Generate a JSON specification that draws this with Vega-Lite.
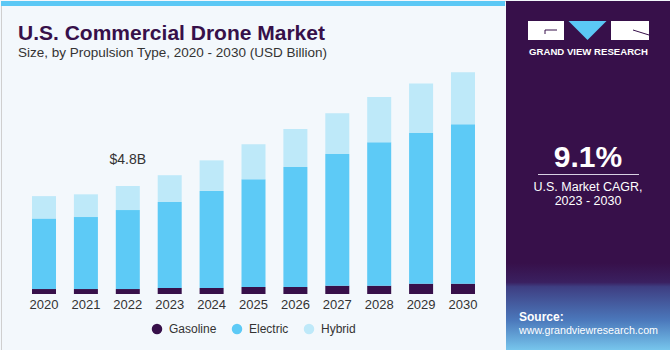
{
  "$schema": "https://vega.github.io/schema/vega-lite/v6.json",
  "background": "#F3F8FC",
  "padding": 0,
  "spacing": 0,
  "bounds": "flush",
  "config": {"view": {"stroke": null}, "font": "Liberation Sans"},
  "hconcat": [
    {
      "width": 505,
      "height": 350,
      "view": {"stroke": "#cfcfcf", "strokeWidth": 1},
      "title": {
        "text": "U.S. Commercial Drone Market",
        "subtitle": "Size, by Propulsion Type, 2020 - 2030 (USD Billion)",
        "anchor": "start",
        "frame": "group",
        "offset": -58,
        "dx": 17,
        "font": "Liberation Sans",
        "fontSize": 21,
        "fontWeight": "bold",
        "color": "#37104A",
        "subtitleFont": "Liberation Sans",
        "subtitleFontSize": 13.5,
        "subtitleColor": "#333333",
        "subtitlePadding": 2
      },
      "layer": [
        {
          "data": {"values": [{}]},
          "mark": {"type": "rect", "color": "#5BC8F5"},
          "encoding": {
            "x": {"value": 0}, "x2": {"value": 504},
            "y": {"value": 0}, "y2": {"value": 5}
          }
        },
        {
          "data": {
            "values": [
              {"year": "2020", "type": "Gasoline", "value": 0.22},
              {"year": "2020", "type": "Electric", "value": 3.14},
              {"year": "2020", "type": "Hybrid", "value": 0.99},
              {"year": "2021", "type": "Gasoline", "value": 0.22},
              {"year": "2021", "type": "Electric", "value": 3.20},
              {"year": "2021", "type": "Hybrid", "value": 1.01},
              {"year": "2022", "type": "Gasoline", "value": 0.22},
              {"year": "2022", "type": "Electric", "value": 3.51},
              {"year": "2022", "type": "Hybrid", "value": 1.07},
              {"year": "2023", "type": "Gasoline", "value": 0.27},
              {"year": "2023", "type": "Electric", "value": 3.82},
              {"year": "2023", "type": "Hybrid", "value": 1.19},
              {"year": "2024", "type": "Gasoline", "value": 0.27},
              {"year": "2024", "type": "Electric", "value": 4.31},
              {"year": "2024", "type": "Hybrid", "value": 1.36},
              {"year": "2025", "type": "Gasoline", "value": 0.31},
              {"year": "2025", "type": "Electric", "value": 4.79},
              {"year": "2025", "type": "Hybrid", "value": 1.56},
              {"year": "2026", "type": "Gasoline", "value": 0.31},
              {"year": "2026", "type": "Electric", "value": 5.33},
              {"year": "2026", "type": "Hybrid", "value": 1.69},
              {"year": "2027", "type": "Gasoline", "value": 0.37},
              {"year": "2027", "type": "Electric", "value": 5.85},
              {"year": "2027", "type": "Hybrid", "value": 1.81},
              {"year": "2028", "type": "Gasoline", "value": 0.37},
              {"year": "2028", "type": "Electric", "value": 6.37},
              {"year": "2028", "type": "Hybrid", "value": 2.01},
              {"year": "2029", "type": "Gasoline", "value": 0.46},
              {"year": "2029", "type": "Electric", "value": 6.70},
              {"year": "2029", "type": "Hybrid", "value": 2.19},
              {"year": "2030", "type": "Gasoline", "value": 0.46},
              {"year": "2030", "type": "Electric", "value": 7.08},
              {"year": "2030", "type": "Hybrid", "value": 2.32}
            ]
          },
          "transform": [
            {"calculate": "indexof(['Gasoline','Electric','Hybrid'], datum.type)", "as": "stackOrder"}
          ],
          "mark": {"type": "bar"},
          "encoding": {
            "x": {
              "field": "year",
              "type": "ordinal",
              "scale": {"paddingInner": 0.427, "paddingOuter": 0.74},
              "axis": {
                "title": null,
                "labelAngle": 0,
                "domain": false,
                "ticks": false,
                "offset": -57,
                "labelPadding": 4,
                "labelFontSize": 13,
                "labelColor": "#333333",
                "labelFont": "Liberation Sans"
              }
            },
            "y": {
              "field": "value",
              "type": "quantitative",
              "stack": "zero",
              "scale": {"domain": [-2.5333, 13.0222], "nice": false, "zero": false},
              "axis": null
            },
            "color": {
              "field": "type",
              "type": "nominal",
              "scale": {
                "domain": ["Gasoline", "Electric", "Hybrid"],
                "range": ["#37104A", "#5DCAF6", "#BEE9F9"]
              },
              "legend": {
                "orient": "none",
                "legendX": 150,
                "legendY": 322,
                "direction": "horizontal",
                "title": null,
                "symbolType": "circle",
                "symbolSize": 110,
                "symbolStrokeWidth": 0,
                "labelFontSize": 12,
                "labelFont": "Liberation Sans",
                "labelColor": "#333333",
                "columnPadding": 14,
                "labelOffset": 6,
                "padding": 0
              }
            },
            "order": {"field": "stackOrder", "type": "quantitative"}
          }
        },
        {
          "data": {"values": [{"year": "2022", "total": 4.8, "label": "$4.8B"}]},
          "mark": {"type": "text", "dy": -22, "fontSize": 14, "color": "#333333", "baseline": "alphabetic", "font": "Liberation Sans"},
          "encoding": {
            "x": {"field": "year", "type": "ordinal"},
            "y": {"field": "total", "type": "quantitative", "scale": {"domain": [-2.5333, 13.0222], "nice": false, "zero": false}, "axis": null},
            "text": {"field": "label"}
          }
        }
      ]
    },
    {
      "width": 165,
      "height": 350,
      "view": {"fill": "#37104A", "stroke": null},
      "data": {"values": [{}]},
      "layer": [
        {
          "mark": {
            "type": "rect",
            "color": {
              "gradient": "linear", "x1": 0, "y1": 0, "x2": 0, "y2": 1,
              "stops": [
                {"offset": 0, "color": "#37104A"},
                {"offset": 0.22, "color": "#3a2060"},
                {"offset": 0.27, "color": "#3e3e82"},
                {"offset": 0.65, "color": "#4b78bb"},
                {"offset": 1, "color": "#78c8ee"}
              ]
            }
          },
          "encoding": {"x": {"value": 0}, "x2": {"value": 165}, "y": {"value": 262}, "y2": {"value": 350}}
        },
        {
          "mark": {"type": "rect", "color": "#ffffff"},
          "encoding": {"x": {"value": 22}, "x2": {"value": 58}, "y": {"value": 20}, "y2": {"value": 39}}
        },
        {
          "mark": {"type": "rect", "color": "#ffffff"},
          "encoding": {"x": {"value": 105}, "x2": {"value": 143}, "y": {"value": 20}, "y2": {"value": 39}}
        },
        {
          "mark": {"type": "point", "shape": "M-1,-0.5L1,-0.5L0,0.5Z", "size": 1444, "filled": true, "color": "#5BC8F5", "opacity": 1},
          "encoding": {"x": {"value": 81.5}, "y": {"value": 29.5}}
        },
        {
          "mark": {"type": "rule", "color": "#37104A", "strokeWidth": 1},
          "encoding": {"x": {"value": 39}, "x2": {"value": 51}, "y": {"value": 29}}
        },
        {
          "mark": {"type": "rule", "color": "#37104A", "strokeWidth": 1},
          "encoding": {"x": {"value": 39}, "y": {"value": 29}, "y2": {"value": 33}}
        },
        {
          "mark": {"type": "rule", "color": "#37104A", "strokeWidth": 1},
          "encoding": {"x": {"value": 127}, "x2": {"value": 143}, "y": {"value": 29}, "y2": {"value": 34}}
        },
        {
          "mark": {"type": "text", "text": "GRAND VIEW RESEARCH", "fontSize": 9.6, "fontWeight": "bold", "color": "#ffffff", "align": "center", "baseline": "alphabetic", "font": "Liberation Sans"},
          "encoding": {"x": {"value": 82.5}, "y": {"value": 54}}
        },
        {
          "mark": {"type": "text", "text": "9.1%", "fontSize": 30, "fontWeight": "bold", "color": "#ffffff", "align": "center", "baseline": "alphabetic", "font": "Liberation Sans"},
          "encoding": {"x": {"value": 82}, "y": {"value": 166}}
        },
        {
          "mark": {"type": "rule", "color": "#d8d0e2", "strokeWidth": 1},
          "encoding": {"x": {"value": 32}, "x2": {"value": 133}, "y": {"value": 173.5}}
        },
        {
          "mark": {"type": "text", "text": "U.S. Market CAGR,", "fontSize": 12.5, "color": "#ffffff", "align": "center", "baseline": "alphabetic", "font": "Liberation Sans"},
          "encoding": {"x": {"value": 82}, "y": {"value": 190}}
        },
        {
          "mark": {"type": "text", "text": "2023 - 2030", "fontSize": 12.5, "color": "#ffffff", "align": "center", "baseline": "alphabetic", "font": "Liberation Sans"},
          "encoding": {"x": {"value": 82}, "y": {"value": 204}}
        },
        {
          "mark": {"type": "text", "text": "Source:", "fontSize": 12, "fontWeight": "bold", "color": "#ffffff", "align": "left", "baseline": "alphabetic", "font": "Liberation Sans"},
          "encoding": {"x": {"value": 13}, "y": {"value": 320}}
        },
        {
          "mark": {"type": "text", "text": "www.grandviewresearch.com", "fontSize": 10.7, "color": "#ffffff", "align": "left", "baseline": "alphabetic", "font": "Liberation Sans"},
          "encoding": {"x": {"value": 13}, "y": {"value": 333}}
        }
      ]
    }
  ]
}
